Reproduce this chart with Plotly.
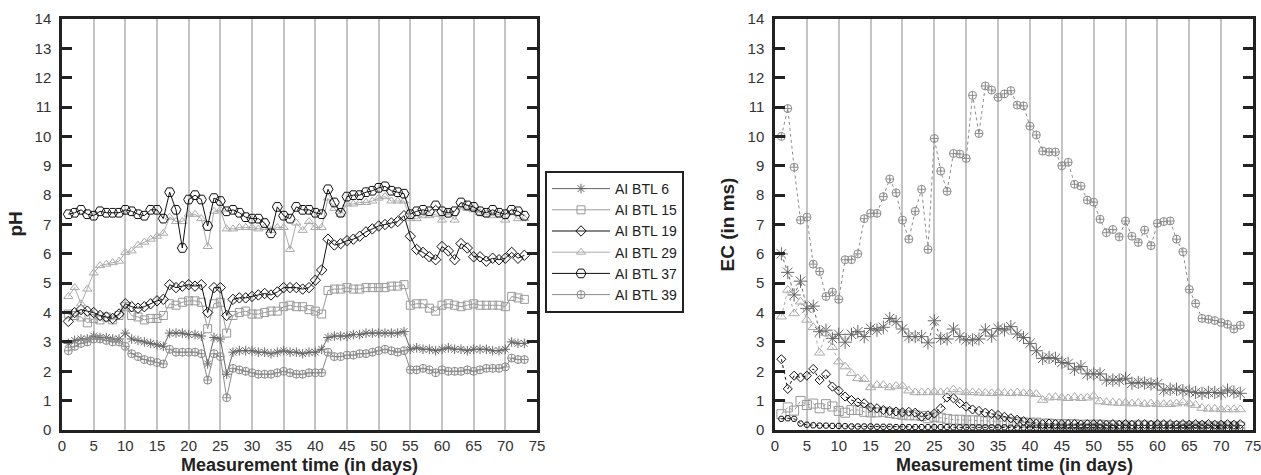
import plotly.graph_objects as go

days = list(range(1, 74))
series_names = ["AI BTL 6", "AI BTL 15", "AI BTL 19", "AI BTL 29", "AI BTL 37", "AI BTL 39"]
x_ticks = [0, 5, 10, 15, 20, 25, 30, 35, 40, 45, 50, 55, 60, 65, 70, 75]
y_ticks = list(range(0, 15))

# ---------------- pH values ----------------
ph_btl6 = [2.95, 3.05, 3.1, 3.1, 3.2, 3.15, 3.15, 3.1, 3.1, 3.3,
           3.1, 3.05, 3.0, 2.95, 2.9, 2.85, 3.3, 3.3, 3.3, 3.25,
           3.25, 3.2, 2.25, 3.15, 3.1, 1.9, 2.65, 2.7, 2.7, 2.7,
           2.65, 2.65, 2.6, 2.65, 2.7, 2.65, 2.65, 2.6, 2.65, 2.65,
           2.75, 3.15, 3.2, 3.2, 3.2, 3.25, 3.25, 3.3, 3.3, 3.3,
           3.3, 3.3, 3.3, 3.35, 2.75, 2.8, 2.75, 2.75, 2.7, 2.75,
           2.8, 2.75, 2.75, 2.7, 2.75, 2.75, 2.75, 2.7, 2.7, 2.75,
           3.0, 2.95, 2.95]
ph_btl15 = [3.95, 3.9, 3.85, 3.65, 3.8, 3.75, 3.85, 3.75, 3.9, 4.2,
            3.9, 3.85, 3.75, 3.8, 3.8, 3.9, 4.3, 4.25, 4.35, 4.4,
            4.4, 4.35, 3.45, 4.3, 4.35, 3.3, 3.9, 4.0, 4.05, 3.95,
            3.95, 4.0, 4.05, 4.05, 4.2, 4.25, 4.2, 4.2, 4.1, 4.05,
            3.95, 4.75, 4.8, 4.8, 4.85, 4.8, 4.8, 4.85, 4.85, 4.85,
            4.85, 4.9, 4.9, 4.95, 4.25, 4.3, 4.3, 4.15, 4.05, 4.25,
            4.3, 4.25, 4.2, 4.25, 4.3, 4.25, 4.25, 4.25, 4.25, 4.2,
            4.55, 4.5, 4.45]
ph_btl19 = [3.7, 4.0, 4.1, 4.05, 4.0, 3.9, 3.85, 3.8, 3.95, 4.3,
            4.2, 4.15, 4.2, 4.3, 4.4, 4.45, 4.95, 4.85, 4.9, 4.95,
            4.9, 4.95, 4.0, 4.85, 4.85, 3.9, 4.45, 4.5, 4.5, 4.55,
            4.6, 4.65, 4.6, 4.7, 4.85, 4.85, 4.85, 4.8, 4.85, 5.1,
            5.45, 6.5, 6.3, 6.35, 6.45, 6.5, 6.6, 6.75, 6.85, 6.95,
            7.0, 7.05, 7.1, 7.3, 6.6, 6.15, 6.05, 5.9, 5.8, 6.25,
            6.1, 5.8, 6.35, 6.2, 5.9, 5.9, 5.75, 5.85, 5.8, 5.85,
            6.05, 5.85, 5.95]
ph_btl29 = [4.55, 4.85, 4.3, 4.8, 5.35, 5.6, 5.65, 5.7, 5.75, 6.05,
            6.1, 6.3, 6.4, 6.5, 6.6, 6.7, 7.25, 7.1, 7.1, 7.35,
            7.35, 7.2, 6.25, 7.45, 7.5, 6.85, 6.85, 6.9, 6.9, 6.9,
            6.85, 6.9, 6.8, 6.9, 6.9, 6.15, 7.05, 6.8, 7.1, 6.9,
            6.9, 7.9, 7.55, 7.35, 7.7, 7.7, 7.75, 7.75, 7.8, 7.9,
            7.95, 7.8, 7.8, 7.8, 7.2, 7.2, 7.3, 7.3, 7.35, 7.15,
            7.4, 7.15, 7.6, 7.55, 7.5, 7.4, 7.35, 7.3, 7.35, 7.15,
            7.4, 7.2, 7.2]
ph_btl37 = [7.35, 7.4, 7.5, 7.35, 7.3, 7.45, 7.4, 7.4, 7.4, 7.5,
            7.45, 7.35, 7.3, 7.5, 7.5, 7.2, 8.1, 7.5, 6.2, 7.85,
            8.0, 7.85, 6.95, 7.9, 7.8, 7.45, 7.5, 7.4, 7.25, 7.2,
            7.2, 7.05, 6.7, 7.6, 7.3, 7.2, 7.6, 7.5, 7.5, 7.4,
            7.35, 8.2, 7.75, 7.4, 7.95, 8.0, 8.0, 8.1, 8.15, 8.25,
            8.3, 8.15, 8.1, 8.05, 7.35, 7.45, 7.5, 7.45, 7.65, 7.45,
            7.4, 7.45, 7.75, 7.65, 7.6, 7.45, 7.4, 7.5, 7.4, 7.35,
            7.5, 7.45, 7.3]
ph_btl39 = [2.7, 2.85, 2.95, 3.0, 3.1, 3.1, 3.05, 3.0, 3.0, 2.85,
            2.6, 2.5, 2.4, 2.35, 2.3, 2.25, 2.75, 2.65, 2.65, 2.65,
            2.65, 2.6, 1.7, 2.6, 2.5, 1.1, 2.1, 2.05, 2.0, 1.95,
            1.9, 1.9, 1.9, 1.95, 2.0, 1.95, 1.9, 1.9, 1.95, 1.95,
            1.95, 2.65, 2.5, 2.5, 2.55, 2.55, 2.6, 2.6, 2.65, 2.7,
            2.75, 2.7, 2.65, 2.7, 2.05, 2.05, 2.1, 2.05, 1.95, 2.05,
            2.0, 2.0, 2.0, 2.05, 2.0, 2.05, 2.1, 2.1, 2.1, 2.15,
            2.45, 2.4, 2.4]

# ---------------- EC values ----------------
ec_btl6 = [6.0, 5.37, 4.6, 5.07, 4.14, 4.22, 3.35, 3.4, 3.12, 3.26,
           2.99, 3.26, 3.35, 3.18, 3.46, 3.4, 3.5, 3.8, 3.69, 3.44,
           3.18, 3.18, 3.18, 2.97, 3.72, 3.12, 3.1, 3.44, 3.18, 3.07,
           3.07, 3.1, 3.41, 3.2, 3.46, 3.41, 3.52, 3.27, 3.15, 2.95,
           2.7, 2.44, 2.47, 2.44, 2.3, 2.27, 2.07, 2.16, 1.91, 1.91,
           1.91, 1.7, 1.7, 1.7, 1.76, 1.59, 1.62, 1.6, 1.57, 1.57,
           1.36, 1.39, 1.39, 1.34, 1.32, 1.28, 1.25, 1.28, 1.28, 1.25,
           1.36, 1.29, 1.25]
ec_btl15 = [0.54, 0.77, 0.66, 0.99, 0.85, 0.9, 0.74, 0.88, 0.8, 0.65,
            0.59, 0.68, 0.68, 0.62, 0.6, 0.6, 0.62, 0.58, 0.55, 0.52,
            0.5, 0.5, 0.48, 0.4, 0.45, 0.42, 0.38, 0.35, 0.35, 0.33,
            0.33, 0.32, 0.3, 0.3, 0.3, 0.28, 0.28, 0.27, 0.25, 0.25,
            0.25, 0.22, 0.22, 0.2, 0.2, 0.2, 0.2, 0.18, 0.18, 0.18,
            0.18, 0.16, 0.16, 0.15, 0.15, 0.15, 0.15, 0.15, 0.14, 0.14,
            0.14, 0.13, 0.13, 0.13, 0.13, 0.12, 0.12, 0.12, 0.12, 0.12,
            0.12, 0.12, 0.12]
ec_btl19 = [2.41, 1.4, 1.85, 1.79, 1.85, 2.08, 1.7, 1.9, 1.48, 1.34,
            1.14, 1.02, 0.94, 0.91, 0.77, 0.74, 0.68, 0.65, 0.63, 0.6,
            0.62, 0.59, 0.45, 0.5, 0.56, 0.74, 1.11, 1.08, 0.91, 0.8,
            0.7, 0.65, 0.59, 0.55, 0.51, 0.45, 0.4, 0.35, 0.3, 0.25,
            0.22, 0.2, 0.22, 0.2, 0.2, 0.2, 0.2, 0.18, 0.2, 0.2,
            0.2, 0.18, 0.2, 0.18, 0.2, 0.18, 0.2, 0.2, 0.18, 0.2,
            0.2, 0.2, 0.18, 0.2, 0.18, 0.2, 0.18, 0.2, 0.18, 0.18,
            0.2, 0.18, 0.2]
ec_btl29 = [3.86, 4.77, 3.97, 4.37, 3.75, 3.5, 2.63, 3.29, 2.82, 2.33,
            2.16, 1.93, 1.76, 1.73, 1.45, 1.53, 1.53, 1.45, 1.5, 1.5,
            1.34, 1.28, 1.28, 1.28, 1.3, 1.28, 1.3, 1.38, 1.3, 1.28,
            1.28, 1.27, 1.26, 1.25, 1.28, 1.26, 1.25, 1.28, 1.25, 1.25,
            1.22, 1.02, 1.1, 1.12, 1.1, 1.08, 1.12, 1.08, 1.1, 1.16,
            0.97, 0.95, 0.93, 0.92, 0.93, 0.9, 0.92, 0.88, 0.9, 0.88,
            0.88, 0.88, 0.9, 0.95, 0.9, 0.85, 0.75, 0.72, 0.72, 0.7,
            0.7, 0.7, 0.7]
ec_btl37 = [0.38, 0.4, 0.38, 0.22, 0.18, 0.16, 0.15, 0.15, 0.14, 0.14,
            0.13, 0.12, 0.12, 0.12, 0.12, 0.11, 0.11, 0.11, 0.1, 0.1,
            0.1, 0.1, 0.1, 0.1, 0.1, 0.1, 0.1, 0.09, 0.09, 0.09,
            0.09, 0.09, 0.09, 0.09, 0.09, 0.09, 0.08, 0.08, 0.08, 0.08,
            0.08, 0.08, 0.08, 0.08, 0.08, 0.08, 0.08, 0.08, 0.08, 0.08,
            0.08, 0.07, 0.07, 0.07, 0.07, 0.07, 0.07, 0.07, 0.07, 0.07,
            0.07, 0.07, 0.07, 0.07, 0.07, 0.07, 0.07, 0.07, 0.07, 0.07,
            0.07, 0.07, 0.07]
ec_btl39 = [10.0, 10.95, 8.95, 7.15, 7.25, 5.65, 5.4, 4.55, 4.7, 4.45,
            5.8, 5.8, 6.0, 7.2, 7.38, 7.38, 7.95, 8.55, 8.08, 7.15,
            6.5, 7.45, 8.2, 6.15, 9.93, 8.82, 8.13, 9.42, 9.4, 9.25,
            11.4, 10.1, 11.72, 11.58, 11.33, 11.45, 11.56, 11.07, 11.04, 10.35,
            10.05, 9.5, 9.47, 9.47, 9.0, 9.12, 8.37, 8.31, 7.83, 7.76,
            7.18, 6.72, 6.83, 6.58, 7.12, 6.6, 6.39, 6.81, 6.28, 7.04,
            7.1, 7.12, 6.5, 6.07, 4.79, 4.31, 3.8, 3.77, 3.73, 3.66,
            3.6, 3.44, 3.57]

ph_values = [ph_btl6, ph_btl15, ph_btl19, ph_btl29, ph_btl37, ph_btl39]
ec_values = [ec_btl6, ec_btl15, ec_btl19, ec_btl29, ec_btl37, ec_btl39]

# styles
colors = ["#666666", "#999999", "#111111", "#ababab", "#111111", "#8c8c8c"]
symbols = ["asterisk-open", "square-open", "diamond-open", "triangle-up-open",
           "hexagon2-open", "circle-cross-open"]
ph_sizes = [8, 8, 8, 8, 10, 8]
ec_sizes = [11, 9, 7, 9, 6, 8]

FONT = "Liberation Sans, Arial, sans-serif"
AXC = "#222222"

# canvas / plot-area geometry (pixels)
W, H = 1261, 475
ML, MR, MT, MB = 62, 8, 19, 45
IW, IH = W - ML - MR, H - MT - MB


def px(v):
    return (v - ML) / IW


def py(v):
    return (H - MB - v) / IH


fig = go.Figure()
for name, vals, col, sym, sz in zip(series_names, ph_values, colors, symbols, ph_sizes):
    fig.add_trace(go.Scatter(
        x=days, y=vals, name=name, mode="lines+markers",
        line=dict(color=col, width=1),
        marker=dict(symbol=sym, size=sz, color=col, line=dict(width=1, color=col)),
        xaxis="x", yaxis="y", legendgroup=name, showlegend=True))

for name, vals, col, sym, sz in zip(series_names, ec_values, colors, symbols, ec_sizes):
    fig.add_trace(go.Scatter(
        x=days, y=vals, name=name, mode="lines+markers",
        line=dict(color=col, width=1, dash="dot"),
        marker=dict(symbol=sym, size=sz, color=col, line=dict(width=1, color=col)),
        xaxis="x2", yaxis="y2", legendgroup=name, showlegend=False))

xcommon = dict(range=[0, 75], tickvals=x_ticks, ticks="", showgrid=True,
               gridcolor="#c4c4c4", gridwidth=2, showline=True, linecolor=AXC,
               linewidth=2.5, mirror=True, zeroline=False, automargin=False,
               tickfont=dict(family=FONT, size=15, color="#333333"),
               ticklabelstandoff=0, ticklabeloverflow="allow", fixedrange=True)
ycommon = dict(range=[0, 14], tickvals=y_ticks, ticks="inside", ticklen=10,
               tickwidth=2.5, tickcolor=AXC, showgrid=False, showline=True,
               linecolor=AXC, linewidth=2.5, mirror="allticks", zeroline=False,
               automargin=False,
               tickfont=dict(family=FONT, size=15, color="#333333"),
               ticklabelstandoff=5, ticklabeloverflow="allow", fixedrange=True)

fig.update_layout(
    width=W, height=H,
    margin=dict(l=ML, r=MR, t=MT, b=MB, autoexpand=False),
    paper_bgcolor="white", plot_bgcolor="white",
    xaxis=dict(domain=[0, px(537)], anchor="y", **xcommon),
    yaxis=dict(domain=[0, 1], anchor="x", **ycommon),
    xaxis2=dict(domain=[px(775), 1], anchor="y2", **xcommon),
    yaxis2=dict(domain=[0, 1], anchor="x2", **ycommon),
    legend=dict(x=px(545), y=py(171), xanchor="left", yanchor="top",
                bordercolor=AXC, borderwidth=2, bgcolor="white",
                font=dict(family=FONT, size=14, color="#222222"),
                itemwidth=58, tracegroupgap=0),
    font=dict(family=FONT),
    annotations=[
        dict(text="<b>pH</b>", x=px(15), y=py(224.5), xref="paper", yref="paper",
             textangle=-90, showarrow=False, xanchor="center", yanchor="middle",
             font=dict(family=FONT, size=19, color="#222222")),
        dict(text="<b>EC (in ms)</b>", x=px(727), y=py(224.5), xref="paper", yref="paper",
             textangle=-90, showarrow=False, xanchor="center", yanchor="middle",
             font=dict(family=FONT, size=19, color="#222222")),
        dict(text="<b>Measurement time (in days)</b>", x=px(299.5), y=py(476),
             xref="paper", yref="paper", showarrow=False, xanchor="center",
             yanchor="bottom", borderpad=0,
             font=dict(family=FONT, size=18, color="#222222")),
        dict(text="<b>Measurement time (in days)</b>", x=px(1014), y=py(476),
             xref="paper", yref="paper", showarrow=False, xanchor="center",
             yanchor="bottom", borderpad=0,
             font=dict(family=FONT, size=18, color="#222222")),
    ],
)

fig.write_html("out.html",
               config={"displayModeBar": False},
               post_script="document.body.style.margin='0';document.body.style.padding='0';")
